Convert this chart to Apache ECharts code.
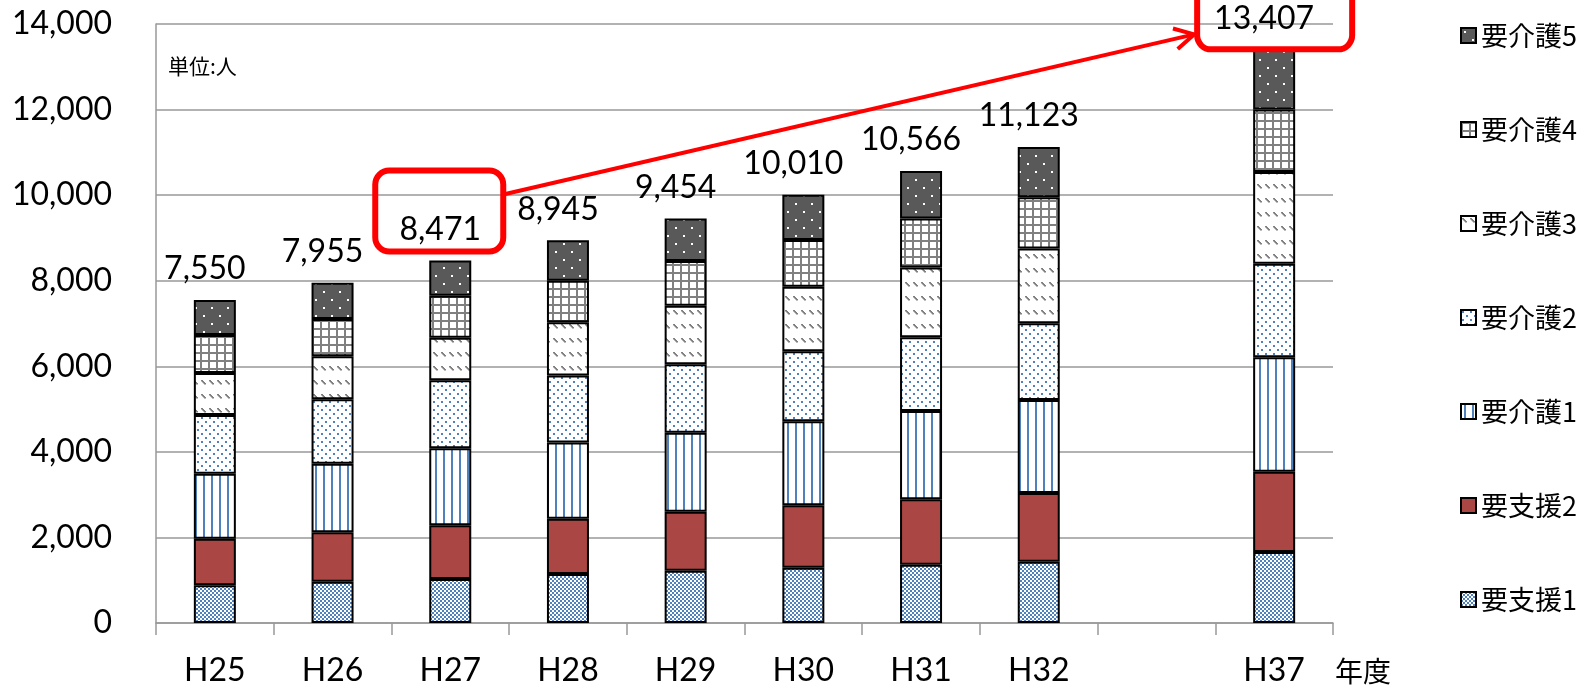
<!DOCTYPE html>
<html>
<head>
<meta charset="utf-8">
<script src="https://cdn.jsdelivr.net/npm/echarts@6/dist/echarts.min.js"></script>
<style>
html,body{margin:0;padding:0;background:#fff;}
#main{width:1587px;height:688px;}
</style>
</head>
<body>
<div id="main"></div>
<script>
// ---- data ----
const categories = ['H25','H26','H27','H28','H29','H30','H31','H32','','H37'];
const shien1 = [880, 966, 1028, 1144, 1222, 1292, 1364, 1434, '-', 1661];
const shien2 = [1091, 1153, 1255, 1292, 1377, 1463, 1528, 1606, '-', 1876];
const kaigo1 = [1519, 1605, 1800, 1782, 1845, 1961, 2065, 2174, '-', 2675];
const kaigo2 = [1371, 1504, 1589, 1564, 1603, 1634, 1723, 1793, '-', 2184];
const kaigo3 = [982, 1004, 996, 1245, 1369, 1510, 1629, 1746, '-', 2142];
const kaigo4 = [888, 873, 982, 973, 1043, 1089, 1145, 1200, '-', 1466];
const kaigo5 = [819, 850, 821, 945, 995, 1061, 1112, 1170, '-', 1403];
const totals = [7550, 7955, 8471, 8945, 9454, 10010, 10566, 11123, '-', 13407];
const seriesNames = ['要支援1','要支援2','要介護1','要介護2','要介護3','要介護4','要介護5'];
const yTicks = [0, 2000, 4000, 6000, 8000, 10000, 12000, 14000];

function fmt(v){ return String(v).replace(/\B(?=(\d{3})+(?!\d))/g, ','); }

function pattern(w, h, bg, draw){
  const c = document.createElement('canvas');
  c.width = w; c.height = h;
  const ctx = c.getContext('2d');
  ctx.fillStyle = bg; ctx.fillRect(0, 0, w, h);
  draw(ctx);
  return {image: c, repeat: 'repeat'};
}
const BLUE = '#4F81BD', GRAY = '#808080';
const patS1 = pattern(4, 4, '#ffffff', ctx => { ctx.fillStyle = BLUE; ctx.fillRect(0,0,2,2); ctx.fillRect(2,2,2,2); });
const colS2 = '#AA4643';
const patK1 = pattern(8, 8, '#ffffff', ctx => { ctx.fillStyle = BLUE; ctx.fillRect(3,0,2,8); });
const patK2 = pattern(8, 8, '#ffffff', ctx => { ctx.fillStyle = BLUE; ctx.fillRect(1,1,2,2); ctx.fillRect(5,5,2,2); });
const patK3 = pattern(8, 14, '#ffffff', ctx => { ctx.fillStyle = GRAY; for (let i=0;i<4;i++){ ctx.fillRect(i+1, i+2, 2, 1.5); } });
const patK4 = pattern(8, 8, '#ffffff', ctx => { ctx.fillStyle = GRAY; ctx.fillRect(0,0,8,2); ctx.fillRect(0,0,2,8); });
const patK5 = pattern(16, 16, '#595959', ctx => { ctx.fillStyle = '#ffffff'; ctx.fillRect(3,3,2,2); ctx.fillRect(11,11,2,2); });

const seriesData = [shien1, shien2, kaigo1, kaigo2, kaigo3, kaigo4, kaigo5];
const fills = [patS1, colS2, patK1, patK2, patK3, patK4, patK5];

const chart = echarts.init(document.getElementById('main'), null, {renderer: 'canvas'});

const series = seriesNames.map((name, i) => {
  const s = {
    name: name,
    type: 'bar',
    stack: 'total',
    barWidth: 42,
    data: seriesData[i],
    itemStyle: {color: fills[i], borderColor: '#000', borderWidth: 2},
    emphasis: {disabled: true},
    animation: false
  };
  if (i === seriesNames.length - 1) {
    s.label = {
      show: true,
      position: 'top',
      distance: 15,
      offset: [-10, 0],
      fontFamily: 'Lato',
      fontSize: 32,
      color: '#000',
      formatter: p => fmt(totals[p.dataIndex])
    };
  }
  return s;
});

chart.setOption({
  animation: false,
  backgroundColor: '#fff',
  title: {
    text: '単位:人',
    left: 163, top: 51,
    textStyle: {fontFamily: 'Noto Sans CJK JP', fontSize: 21, fontWeight: 'normal', color: '#000'}
  },
  legend: {
    orient: 'vertical',
    left: 1455, top: 17,
    itemWidth: 15, itemHeight: 15,
    itemGap: 67,
    icon: 'rect',
    data: seriesNames.slice().reverse(),
    textStyle: {fontFamily: 'Noto Sans CJK JP', fontSize: 27, color: '#000', lineHeight: 27},
    selectedMode: false
  },
  grid: {left: 156, right: 254, top: 24, bottom: 65, containLabel: false},
  xAxis: {
    type: 'category',
    data: categories,
    boundaryGap: true,
    axisLine: {show: true, lineStyle: {color: '#999', width: 1.5}},
    axisTick: {show: true, alignWithLabel: false, length: 12, lineStyle: {color: '#999', width: 1.5}},
    axisLabel: {fontFamily: 'Lato', fontSize: 32, color: '#000', margin: 32, interval: 0}
  },
  yAxis: {
    type: 'value',
    min: yTicks[0], max: yTicks[yTicks.length - 1], interval: yTicks[1] - yTicks[0],
    axisLine: {show: true, lineStyle: {color: '#999', width: 1.5}},
    axisTick: {show: false},
    splitLine: {show: true, lineStyle: {color: '#999', width: 1.5}},
    axisLabel: {fontFamily: 'Lato', fontSize: 32, color: '#000', margin: 44, formatter: v => fmt(v)}
  },
  series: series
});

// ---- annotations (axis unit, red boxes & arrow), anchored to the chart's own coordinates ----
const p27 = chart.convertToPixel({gridIndex: 0}, [categories[2], totals[2]]);
const p37 = chart.convertToPixel({gridIndex: 0}, [categories[9], totals[9]]);
const origin = chart.convertToPixel({gridIndex: 0}, [categories[9], 0]);
const gridRight = 1587 - 254;
const RED = '#FF0000';
const b1 = {x: p27[0] - 75, y: p27[1] - 90, width: 128, height: 81};
const b2 = {x: p37[0] - 77, y: p37[1] - 100, width: 155, height: 100};
const start = [b1.x + b1.width, p27[1] - 66];
const tip = [b2.x - 3, p37[1] - 15];
const ang = Math.atan2(tip[1] - start[1], tip[0] - start[0]);
const L = 22, spread = 0.5;
const a1 = [tip[0] - L * Math.cos(ang - spread), tip[1] - L * Math.sin(ang - spread)];
const a2 = [tip[0] - L * Math.cos(ang + spread), tip[1] - L * Math.sin(ang + spread)];

chart.setOption({
  graphic: [
    {type: 'text', z: 100, x: gridRight + 2, y: origin[1] + 34,
     style: {text: '年度', fontFamily: 'Noto Sans CJK JP', fontSize: 28, fill: '#000', textVerticalAlign: 'top'}},
    {type: 'rect', z: 100, shape: Object.assign({r: 14}, b1), style: {fill: null, stroke: RED, lineWidth: 6}},
    {type: 'rect', z: 100, shape: Object.assign({r: 14}, b2), style: {fill: null, stroke: RED, lineWidth: 6}},
    {type: 'line', z: 100, shape: {x1: start[0], y1: start[1], x2: tip[0], y2: tip[1]}, style: {stroke: RED, lineWidth: 4}},
    {type: 'polyline', z: 100, shape: {points: [a1, tip, a2]}, style: {fill: null, stroke: RED, lineWidth: 4, lineJoin: 'miter'}}
  ]
});
</script>
</body>
</html>
